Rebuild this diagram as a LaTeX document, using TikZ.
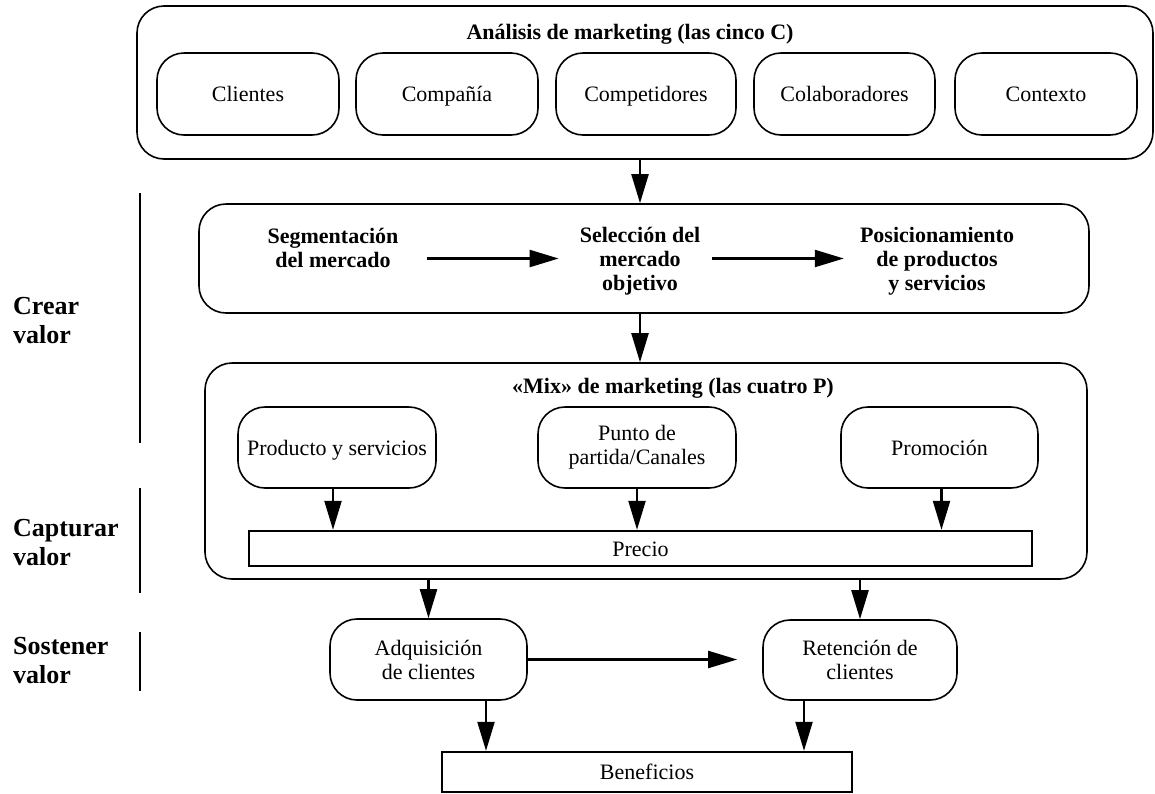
\documentclass[tikz,border=0pt]{standalone}
\usepackage{fontspec}
\setmainfont{Liberation Serif}
\usetikzlibrary{arrows.meta}
\begin{document}
\begin{tikzpicture}[x=1pt,y=-1pt,
  every node/.style={font=\fontsize{22}{24}\selectfont,inner sep=0pt},
  rbox/.style={draw,line width=1.6pt,rounded corners=27pt},
  sbox/.style={draw,line width=2.4pt},
  one/.style={text height=15pt,text depth=0pt},
  bold/.style={font=\fontsize{22}{24}\selectfont\bfseries,align=center},
  side/.style={font=\fontsize{26}{29}\selectfont\bfseries,align=left,anchor=west},
  arr/.style={line width=2.2pt,-{Triangle[length=29pt,width=17pt]}},
  bar/.style={line width=2.4pt}
]
\useasboundingbox (0,0) rectangle (1155,793);
\fill[white] (0,0) rectangle (1155,793);

% top container: the five C
\node[rbox,minimum width=1016pt,minimum height=153pt] (top) at (645,82.5) {};
\node[bold,one] (t1) at (630,31.5) {Análisis de marketing (las cinco C)};
\node[rbox,one,minimum width=182pt,minimum height=82pt] (c1) at (248,94) {Clientes};
\node[rbox,one,minimum width=182pt,minimum height=82pt] (c2) at (447,94) {Compañía};
\node[rbox,one,minimum width=180pt,minimum height=82pt] (c3) at (646,94) {Competidores};
\node[rbox,one,minimum width=181pt,minimum height=82pt] (c4) at (844.5,94) {Colaboradores};
\node[rbox,one,minimum width=182pt,minimum height=82pt] (c5) at (1046,94) {Contexto};

% segmentation box
\node[rbox,minimum width=890pt,minimum height=109pt] (seg) at (644,258.5) {};
\node[bold] (segt) at (333,247.5) {Segmentación\\del mercado};
\node[bold] (selt) at (640,261.5) {Selección del\\mercado\\objetivo};
\node[bold] (post) at (937,261.5) {Posicionamiento\\de productos\\y servicios};

% marketing mix box
\node[rbox,minimum width=882pt,minimum height=216pt] (mix) at (646,471) {};
\node[bold,one] (t2) at (673,385.5) {«Mix» de marketing (las cuatro P)};
\node[rbox,one,minimum width=198pt,minimum height=81pt] (prod) at (337,447.5) {Producto y servicios};
\node[rbox,align=center,minimum width=198pt,minimum height=81pt] (punto) at (637,447.5) {Punto de\\partida/Canales};
\node[rbox,one,minimum width=197pt,minimum height=81pt] (prom) at (939.5,447.5) {Promoción};
\node[sbox,one,minimum width=783pt,minimum height=35pt] (pre) at (640.5,548.5) {Precio};

% customers
\node[rbox,align=center,minimum width=197pt,minimum height=81pt] (adq) at (428.5,659.5) {Adquisición\\de clientes};
\node[rbox,align=center,minimum width=194pt,minimum height=80pt] (ret) at (860,660) {Retención de\\clientes};
\node[sbox,one,minimum width=410pt,minimum height=40pt] (ben) at (647,772) {Beneficios};

% side labels
\node[side] (crear) at (13,320.7) {Crear\\valor};
\node[side] (capt) at (13,542.7) {Capturar\\valor};
\node[side] (sost) at (13,660.8) {Sostener\\valor};
\draw[bar] (140,193) -- (140,443);
\draw[bar] (140,488) -- (140,593);
\draw[bar] (140,632) -- (140,691);

% connectors
\draw[arr] (selt |- top.south) -- (selt |- seg.north);
\draw[arr] (selt |- seg.south) -- (selt |- mix.north);
\draw[arr,shorten <=28pt,shorten >=21pt] (segt.east |- seg) -- (selt.west |- seg);
\draw[arr,shorten <=12pt,shorten >=16pt] (selt.east |- seg) -- (post.west |- seg);
\draw[arr] ([xshift=-4pt]prod.south) -- ([xshift=-4pt]prod.south |- pre.north);
\draw[arr] (punto.south) -- (punto.south |- pre.north);
\draw[arr] ([xshift=2pt]prom.south) -- ([xshift=2pt]prom.south |- pre.north);
\draw[arr] (adq |- mix.south) -- (adq.north);
\draw[arr] (ret |- mix.south) -- (ret.north);
\draw[arr,shorten >=25pt] (adq.east) -- (ret.west |- adq.east);
\draw[arr] ([xshift=57.5pt]adq.south) -- ([xshift=57.5pt]adq.south |- ben.north);
\draw[arr] ([xshift=-56pt]ret.south) -- ([xshift=-56pt]ret.south |- ben.north);
\end{tikzpicture}
\end{document}
